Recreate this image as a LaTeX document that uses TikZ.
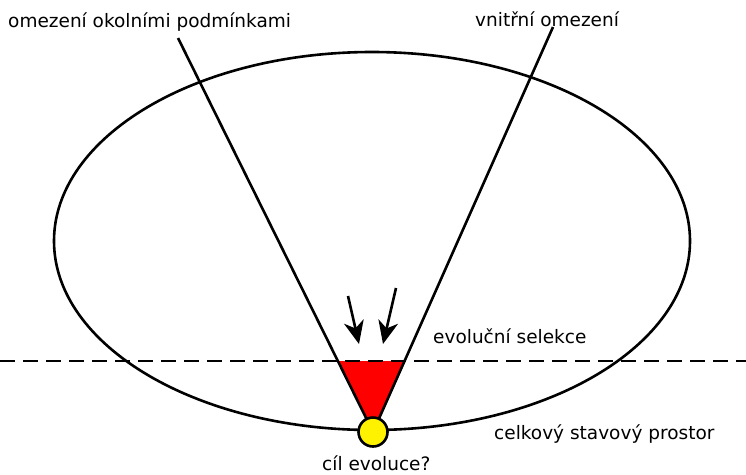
\documentclass[tikz,border=0pt]{standalone}
\usepackage{fontspec}
\setmainfont{DejaVu Sans}
\usetikzlibrary{arrows.meta,calc,intersections,shapes.geometric}
\begin{document}
\begin{tikzpicture}[x=1pt,y=-1pt,
  lbl/.style={font=\fontsize{18.5}{22}\selectfont, inner sep=0pt, anchor=base west},
  thick line/.style={line width=2.6pt},
  arr/.style={line width=2.6pt,-{Stealth[length=23pt,width=20pt,inset=7pt]}}]
\useasboundingbox (0,0) rectangle (746,474);
% state space
\node[draw, line width=2.6pt, ellipse, minimum width=636pt, minimum height=378pt, inner sep=0pt] (space) at (372,241) {};
% goal
\coordinate (goal) at (373,432);
\coordinate (ltop) at (178,38);
\coordinate (rtop) at (553,27);
\coordinate (dl) at (0,361);
\coordinate (dr) at (746,361);
% red region
\path[name path=L] (ltop) -- (goal);
\path[name path=R] (rtop) -- (goal);
\path[name path=D] (dl) -- (dr);
\path[name intersections={of=L and D,by=li}];
\path[name intersections={of=R and D,by=ri}];
\fill[red] (li) -- (ri) -- (goal) -- cycle;
\draw[thick line] (ltop) -- (goal);
\draw[thick line] (rtop) -- (goal);
\draw[line width=2.6pt, dash pattern=on 15pt off 8pt] (dl) -- (dr);
% arrows
\coordinate (a1s) at (348,296);
\coordinate (a1e) at (359,344);
\coordinate (a2s) at (396,288);
\coordinate (a2e) at (383,344);
\draw[arr] (a1s) -- (a1e);
\draw[arr] (a2s) -- (a2e);
\node[circle, draw, line width=2.6pt, fill=yellow, minimum size=29pt, inner sep=0pt] (target) at (goal) {};
% labels
\node[lbl] (l1) at (8,27) {omezení okolními podmínkami};
\node[lbl] (l2) at (475,26) {vnitřní omezení};
\node[lbl] (l3) at (433,343) {evoluční selekce};
\node[lbl] (l4) at (494,439) {celkový stavový prostor};
\node[lbl] (l5) at (322,470) {cíl evoluce?};
\end{tikzpicture}
\end{document}
